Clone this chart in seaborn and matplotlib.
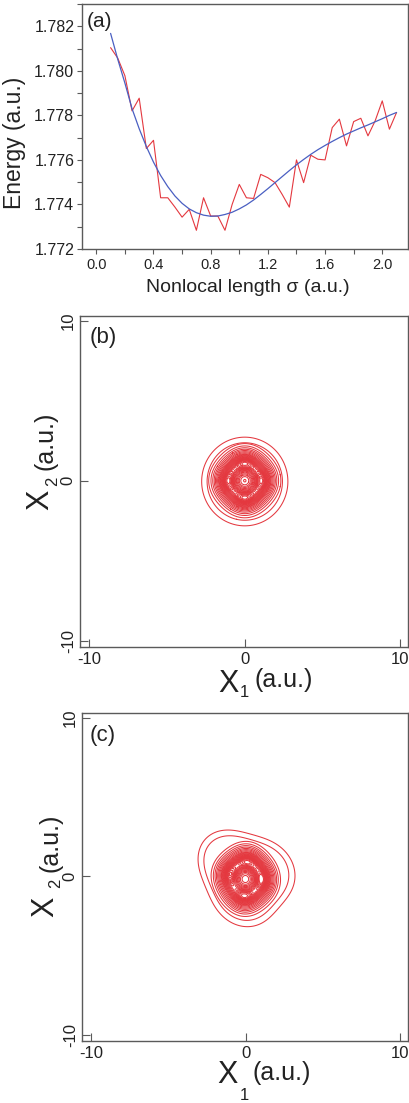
import numpy as np
import matplotlib
matplotlib.use("Agg")
import matplotlib.pyplot as plt
from matplotlib.ticker import MultipleLocator, FormatStrFormatter, FixedLocator
import seaborn as sns

# ---- panel (a): ground-state energy vs nonlocal length ----
sigma = [0.10, 0.15, 0.20, 0.25, 0.30, 0.35, 0.40, 0.45, 0.50, 0.55,
         0.60, 0.65, 0.70, 0.75, 0.80, 0.85, 0.90, 0.95, 1.00, 1.05,
         1.10, 1.15, 1.20, 1.25, 1.30, 1.35, 1.40, 1.45, 1.50, 1.55,
         1.60, 1.65, 1.70, 1.75, 1.80, 1.85, 1.90, 1.95, 2.00, 2.05, 2.10]
energy = [1.78104, 1.78057, 1.77978, 1.77820, 1.77877, 1.77651, 1.77688, 1.77430, 1.77430, 1.77388,
          1.77343, 1.77378, 1.77284, 1.77430, 1.77348, 1.77348, 1.77284, 1.77400, 1.77490, 1.77430,
          1.77427, 1.77535, 1.77520, 1.77498, 1.77445, 1.77388, 1.77600, 1.77498, 1.77621, 1.77603,
          1.77600, 1.77745, 1.77783, 1.77663, 1.77772, 1.77787, 1.77708, 1.77775, 1.77865, 1.77738, 1.77813]
energy_fit = [1.78168, 1.78052, 1.77945, 1.77830, 1.77740, 1.77660, 1.77590, 1.77530, 1.77480, 1.77438,
              1.77405, 1.77380, 1.77363, 1.77352, 1.77347, 1.77348, 1.77355, 1.77365, 1.77380, 1.77398,
              1.77420, 1.77445, 1.77471, 1.77498, 1.77525, 1.77552, 1.77578, 1.77602, 1.77625, 1.77646,
              1.77665, 1.77683, 1.77700, 1.77716, 1.77730, 1.77744, 1.77757, 1.77771, 1.77785, 1.77800, 1.77813]

# ---- panels (b), (c): weighted source points of the density |psi(x1,x2)|^2 ----
# core: ring with four stronger lobes (N, E, S, W) and a small centre dip
b_x1 = [0.0, 1.25, 1.083, 0.625, 0.0, -0.625, -1.083, -1.25, -1.083, -0.625, 0.0, 0.625, 1.083]
b_x2 = [0.0, 0.0, 0.625, 1.083, 1.25, 1.083, 0.625, 0.0, -0.625, -1.083, -1.25, -1.083, -0.625]
b_w = [0.15, 1.0, 0.55, 0.55, 1.0, 0.55, 0.55, 1.0, 0.55, 0.55, 1.0, 0.55, 0.55]
# halo: outer two contours
b_halo_x1 = [0.0, 1.1, 0.78, 0.0, -0.78, -1.1, -0.78, 0.0, 0.78]
b_halo_x2 = [-0.05, -0.05, 0.73, 1.05, 0.73, -0.05, -0.83, -1.15, -0.83]
b_halo_w = [1.0, 0.6, 0.6, 0.6, 0.6, 0.6, 0.6, 0.6, 0.6]

c_x1 = [0.05, 1.2, 1.05, 0.6, 0.05, -0.6, -1.05, -1.2, -1.05, -0.6, -0.05, 0.6, 1.05]
c_x2 = [-0.25, -0.2, 0.45, 0.9, 1.1, 0.95, 0.5, 0.0, -0.8, -1.25, -1.45, -1.25, -0.8]
c_w = [0.15, 1.0, 0.55, 0.55, 1.0, 0.55, 0.55, 1.0, 0.55, 0.55, 1.0, 0.55, 0.55]
# halo of (c): rounded triangle (upper-left, right, bottom corners)
c_halo_x1 = [0.0, -1.05, 1.25, -0.2]
c_halo_x2 = [0.0, 0.9, 0.35, -1.3]
c_halo_w = [1.0, 0.7, 0.6, 0.6]

core_levels = [0.07, 0.11, 0.15, 0.19, 0.23, 0.27, 0.31, 0.35, 0.39, 0.43, 0.47, 0.51,
               0.55, 0.59, 0.63, 0.67, 0.71, 0.75, 0.79, 0.83, 0.87, 0.91, 0.95, 0.98]
halo_levels = [0.06, 0.12]

W, H = 409, 1103
RED = "#e4383f"
BLUE = "#4a5fc2"
SPINE = "#5a5a5a"
TXT = "#222222"

sns.set_theme(style="white")
plt.rcParams["font.family"] = ["Liberation Sans", "DejaVu Sans"]
plt.rcParams["axes.unicode_minus"] = False


def fx(x):
    return x / W


def fy(y):
    return 1 - y / H


def box(left, top, right, bottom):
    return [fx(left), fy(bottom), (right - left) / W, (bottom - top) / H]


def style_spines(ax):
    for s in ax.spines.values():
        s.set_color(SPINE)
        s.set_linewidth(1.0)


fig = plt.figure(figsize=(W / 100, H / 100), dpi=100)

# ---------------- (a) ----------------
axA = fig.add_axes(box(82, 4, 408, 249))
sns.lineplot(x=sigma, y=energy, color=RED, lw=0.8, ax=axA)
sns.lineplot(x=sigma, y=energy_fit, color=BLUE, lw=0.9, ax=axA)
axA.set_xlim(-0.1, 2.18)
axA.set_ylim(1.772, 1.783)
axA.xaxis.set_major_locator(MultipleLocator(0.4))
axA.xaxis.set_minor_locator(MultipleLocator(0.2))
axA.yaxis.set_major_locator(MultipleLocator(0.002))
axA.yaxis.set_minor_locator(MultipleLocator(0.001))
axA.xaxis.set_major_formatter(FormatStrFormatter("%.1f"))
axA.yaxis.set_major_formatter(FormatStrFormatter("%.3f"))
axA.tick_params(which="both", direction="out", length=3.5, width=0.8,
                color=SPINE, labelcolor=TXT, left=True, bottom=True)
axA.tick_params(axis="x", labelsize=10.5, pad=3)
axA.tick_params(axis="y", labelsize=11.5, pad=2)
style_spines(axA)
fig.text(fx(87), fy(12), "(a)", fontsize=15, ha="left", va="top", color=TXT)
fig.text(fx(248), fy(292), "Nonlocal length σ (a.u.)", fontsize=14,
         ha="center", va="baseline", color=TXT)
fig.text(fx(21), fy(143), "Energy (a.u.)", fontsize=16.5, rotation=90,
         rotation_mode="anchor", ha="center", va="baseline", color=TXT)


def kde_lines(ax, xs, ys, ws, target_bw, lv):
    cov = np.cov(np.vstack([xs, ys]), aweights=ws)
    factor = target_bw / np.sqrt(np.mean(np.diag(cov)))
    sns.kdeplot(x=xs, y=ys, weights=ws, bw_method=factor, levels=lv,
                color=RED, linewidths=0.75, cut=6, gridsize=300, ax=ax)


def frame_panel(ax):
    ax.set_xlim(-10.6, 10.5)
    ax.set_ylim(-10.4, 10.3)
    ax.xaxis.set_major_locator(FixedLocator([-10, 0, 10]))
    ax.yaxis.set_major_locator(FixedLocator([-10, 0, 10]))
    ax.xaxis.set_major_formatter(FormatStrFormatter("%d"))
    ax.yaxis.set_major_formatter(FormatStrFormatter("%d"))
    ax.tick_params(which="both", direction="in", length=6, width=0.8,
                   color=SPINE, labelcolor=TXT, labelsize=12,
                   left=True, bottom=True)
    ax.tick_params(axis="y", labelrotation=90, pad=3)
    for lab in ax.get_yticklabels():
        lab.set_va("center")
    ax.set_xlabel("")
    ax.set_ylabel("")
    style_spines(ax)


def x_label(left, base, sub_left, sub_base, au_left, au_base):
    fig.text(fx(left), fy(base), "X", fontsize=22, ha="left", va="baseline", color=TXT)
    fig.text(fx(sub_left), fy(sub_base), "1", fontsize=12, ha="left", va="baseline", color=TXT)
    fig.text(fx(au_left), fy(au_base), "(a.u.)", fontsize=18, ha="left", va="baseline", color=TXT)


def y_label(base, start, sub_base, sub_start, au_base, au_start):
    kw = dict(rotation=90, rotation_mode="anchor", ha="left", va="baseline", color=TXT)
    fig.text(fx(base), fy(start), "X", fontsize=22, **kw)
    fig.text(fx(sub_base), fy(sub_start), "2", fontsize=12, **kw)
    fig.text(fx(au_base), fy(au_start), "(a.u.)", fontsize=18, **kw)


# ---------------- (b) ----------------
axB = fig.add_axes(box(80, 316, 408, 647))
kde_lines(axB, b_x1, b_x2, b_w, 0.62, core_levels)
kde_lines(axB, b_halo_x1, b_halo_x2, b_halo_w, 0.95, halo_levels)
frame_panel(axB)
fig.text(fx(90), fy(327), "(b)", fontsize=16, ha="left", va="top", color=TXT)
x_label(218, 692, 240, 697, 255, 687)
y_label(48, 510, 57, 486, 53, 470)

# ---------------- (c) ----------------
axC = fig.add_axes(box(82, 713, 408, 1041))
kde_lines(axC, c_x1, c_x2, c_w, 0.62, core_levels)
kde_lines(axC, c_halo_x1, c_halo_x2, c_halo_w, 1.05, halo_levels)
frame_panel(axC)
fig.text(fx(90), fy(725), "(c)", fontsize=16, ha="left", va="top", color=TXT)
x_label(217, 1083, 240, 1100, 253, 1080)
y_label(53, 917, 60, 888, 57, 872)

fig.savefig("out.png", dpi=100)
